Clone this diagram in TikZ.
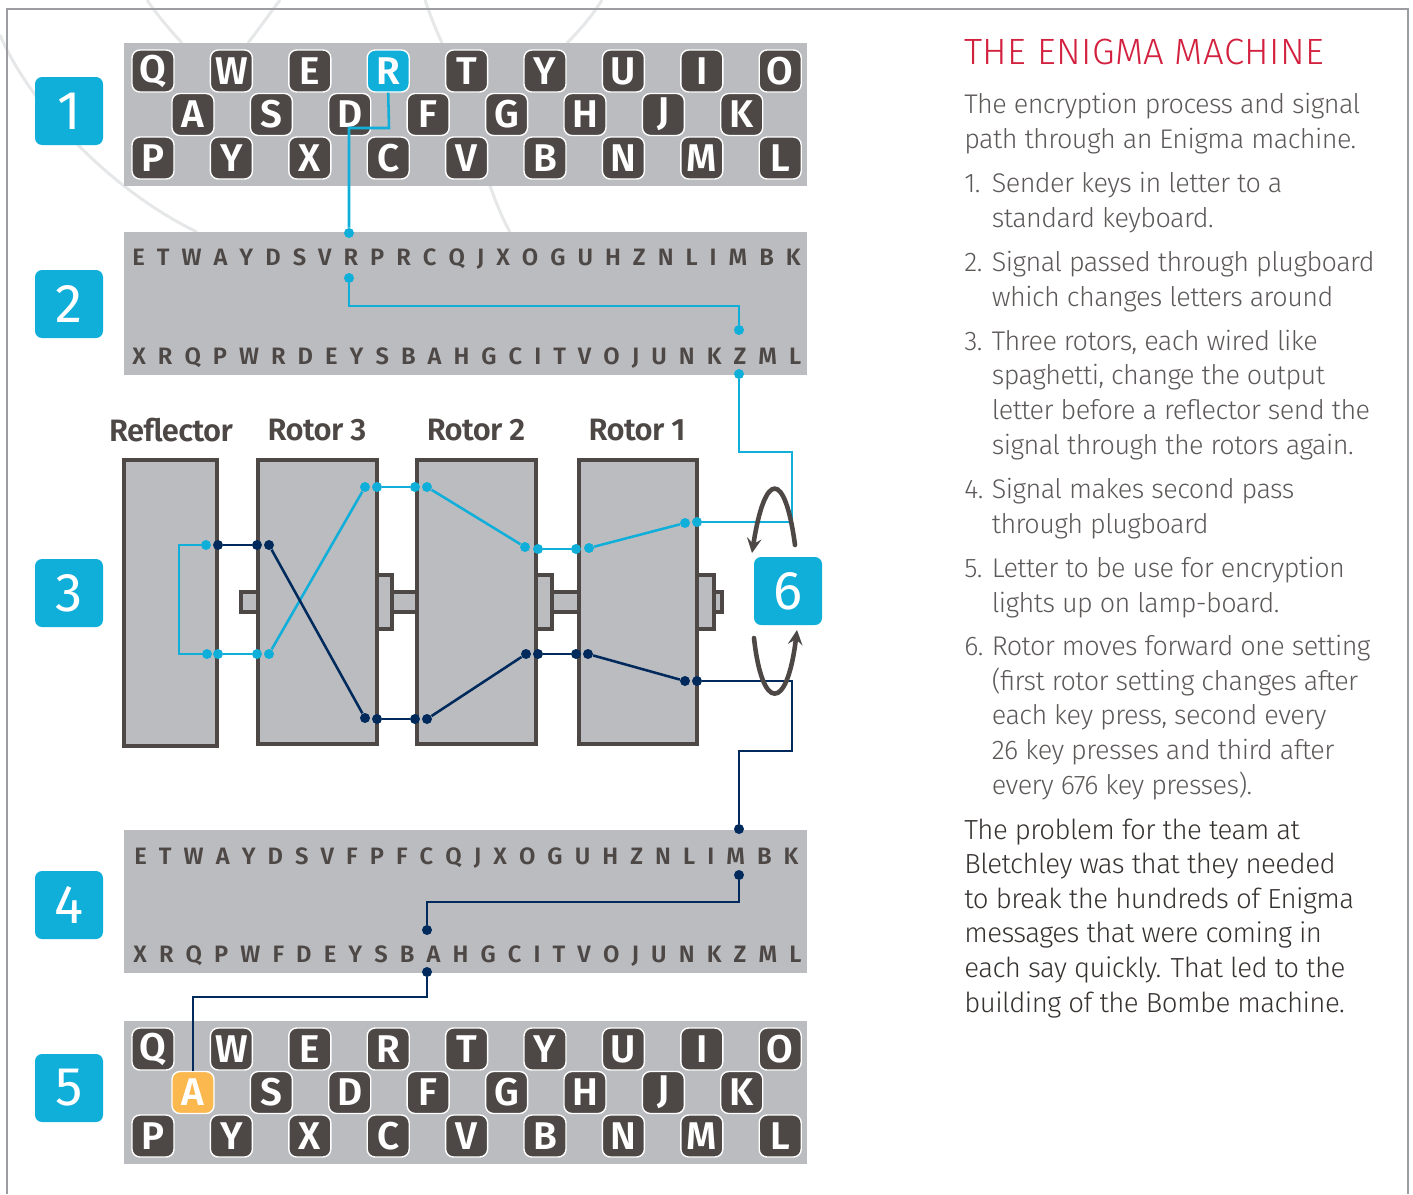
\documentclass[tikz,border=0pt]{standalone}
\usepackage{fontspec}
\setmainfont{Fira Sans Light}[BoldFont={Fira Sans SemiBold},LetterSpace=-2]
\newfontfamily\badgefont{Fira Sans}
\usetikzlibrary{calc,positioning}
\definecolor{skyblue}{HTML}{0FAFDA}
\definecolor{navyblue}{HTML}{002A5C}
\definecolor{darkgrey}{HTML}{4D4845}
\definecolor{textgrey}{HTML}{5C5958}
\definecolor{panelgrey}{HTML}{BBBCC0}
\definecolor{arcgrey}{HTML}{E6E7E8}
\definecolor{framegrey}{HTML}{9B9DA1}
\definecolor{titlered}{HTML}{D2203F}
\definecolor{lampyellow}{HTML}{FBB84E}
\newcommand{\numbered}[1]{\makebox[0.55cm][l]{#1}}
\newcommand{\indentline}{\hspace*{0.55cm}}
\tikzset{
  panel/.style={fill=panelgrey, draw=none, minimum width=683*0.02cm, minimum height=143*0.02cm, inner sep=0pt},
  badge/.style={fill=skyblue, rounded corners=4pt, minimum size=68*0.02cm, inner sep=0pt, text=white, font=\fontsize{31}{31}\selectfont\badgefont},
  keycap/.style={fill=darkgrey, draw=white, line width=0.8pt, rounded corners=4.5pt, minimum size=42*0.02cm, inner sep=0pt, text=white, font=\fontsize{22}{22}\selectfont\bfseries},
  strip/.style={text=darkgrey, inner sep=0pt, anchor=base west, font=\fontsize{13.5}{13.5}\selectfont\bfseries},
  rotorbox/.style={fill=panelgrey, draw=darkgrey, line width=2.3pt},
  rotorname/.style={text=darkgrey, inner sep=0pt, font=\fontsize{17.6}{17.6}\selectfont\bfseries},
  skydot/.style={fill=skyblue, circle, minimum size=10*0.02cm, inner sep=0pt},
  navydot/.style={fill=navyblue, circle, minimum size=10*0.02cm, inner sep=0pt},
  skyline/.style={draw=skyblue, line width=1.45pt},
  navyline/.style={draw=navyblue, line width=1.45pt},
  turn/.style={draw=darkgrey, line width=2.6pt, line cap=round, -stealth},
  para/.style={text=textgrey, inner sep=0pt, anchor=base west, align=left, font=\fontsize{15.35}{19.67}\selectfont},
}
\begin{document}
\begin{tikzpicture}[x=0.02cm, y=-0.02cm]
\def\scalex{78.4}
\def\scaley{43.5}
\def\startx{153}
\useasboundingbox (0,0) rectangle (1413,1194);
\draw[arcgrey, line width=1.7pt] (0,35) .. controls (30,105) and (110,190) .. (197,232);
\draw[arcgrey, line width=1.7pt] (147,0) .. controls (158,16) and (170,30) .. (182,43);
\draw[arcgrey, line width=1.7pt] (280,0) .. controls (268,16) and (258,30) .. (248,43);
\draw[arcgrey, line width=1.7pt] (425,0) .. controls (430,15) and (436,30) .. (442,43);
\draw[arcgrey, line width=1.7pt] (490,186) .. controls (496,202) and (502,218) .. (510,232);
\draw[arcgrey, line width=1.7pt] (602,0) .. controls (592,16) and (580,30) .. (567,43);
\draw[framegrey, line width=1.5pt] (7,1194) -- (7,9) -- (1408,9) -- (1408,1194);

\node[panel] (keyboard) at (465.5,114.5) {};
\node[panel] (entry) at (465.5,303.5) {};
\node[panel] (exit) at (465.5,901.5) {};
\node[panel] (lampboard) at (465.5,1092.5) {};

\node[badge] (one) at (69,111) {1};
\node[badge] (two) at (69,304) {2};
\node[badge] (three) at (69,593) {3};
\node[badge] (four) at (69,905) {4};
\node[badge] (five) at (69,1088) {5};
\node[badge] (six) at (788,591) {6};

\def\starty{71}
\node[keycap] (kq) at (0*\scalex+\startx,0*\scaley+\starty) {Q};
\node[keycap] (kw) at (1*\scalex+\startx,0*\scaley+\starty) {W};
\node[keycap] (ke) at (2*\scalex+\startx,0*\scaley+\starty) {E};
\node[keycap, fill=skyblue] (kr) at (3*\scalex+\startx,0*\scaley+\starty) {R};
\node[keycap] (kt) at (4*\scalex+\startx,0*\scaley+\starty) {T};
\node[keycap] (ky) at (5*\scalex+\startx,0*\scaley+\starty) {Y};
\node[keycap] (ku) at (6*\scalex+\startx,0*\scaley+\starty) {U};
\node[keycap] (ki) at (7*\scalex+\startx,0*\scaley+\starty) {I};
\node[keycap] (ko) at (8*\scalex+\startx,0*\scaley+\starty) {O};
\node[keycap] (ka) at (0.51*\scalex+\startx,1*\scaley+\starty) {A};
\node[keycap] (ks) at (1.51*\scalex+\startx,1*\scaley+\starty) {S};
\node[keycap] (kd) at (2.51*\scalex+\startx,1*\scaley+\starty) {D};
\node[keycap] (kf) at (3.51*\scalex+\startx,1*\scaley+\starty) {F};
\node[keycap] (kg) at (4.51*\scalex+\startx,1*\scaley+\starty) {G};
\node[keycap] (kh) at (5.51*\scalex+\startx,1*\scaley+\starty) {H};
\node[keycap] (kj) at (6.51*\scalex+\startx,1*\scaley+\starty) {J};
\node[keycap] (kk) at (7.51*\scalex+\startx,1*\scaley+\starty) {K};
\node[keycap] (kp) at (0*\scalex+\startx,2*\scaley+\starty) {P};
\node[keycap] (ky2) at (1*\scalex+\startx,2*\scaley+\starty) {Y};
\node[keycap] (kx) at (2*\scalex+\startx,2*\scaley+\starty) {X};
\node[keycap] (kc) at (3*\scalex+\startx,2*\scaley+\starty) {C};
\node[keycap] (kv) at (4*\scalex+\startx,2*\scaley+\starty) {V};
\node[keycap] (kb) at (5*\scalex+\startx,2*\scaley+\starty) {B};
\node[keycap] (kn) at (6*\scalex+\startx,2*\scaley+\starty) {N};
\node[keycap] (km) at (7*\scalex+\startx,2*\scaley+\starty) {M};
\node[keycap] (kl) at (8*\scalex+\startx,2*\scaley+\starty) {L};

\def\starty{1049}
\node[keycap] (lq) at (0*\scalex+\startx,0*\scaley+\starty) {Q};
\node[keycap] (lw) at (1*\scalex+\startx,0*\scaley+\starty) {W};
\node[keycap] (le) at (2*\scalex+\startx,0*\scaley+\starty) {E};
\node[keycap] (lr) at (3*\scalex+\startx,0*\scaley+\starty) {R};
\node[keycap] (lt) at (4*\scalex+\startx,0*\scaley+\starty) {T};
\node[keycap] (ly) at (5*\scalex+\startx,0*\scaley+\starty) {Y};
\node[keycap] (lu) at (6*\scalex+\startx,0*\scaley+\starty) {U};
\node[keycap] (li) at (7*\scalex+\startx,0*\scaley+\starty) {I};
\node[keycap] (lo) at (8*\scalex+\startx,0*\scaley+\starty) {O};
\node[keycap, fill=lampyellow] (la) at (0.51*\scalex+\startx,1*\scaley+\starty) {A};
\node[keycap] (ls) at (1.51*\scalex+\startx,1*\scaley+\starty) {S};
\node[keycap] (ld) at (2.51*\scalex+\startx,1*\scaley+\starty) {D};
\node[keycap] (lf) at (3.51*\scalex+\startx,1*\scaley+\starty) {F};
\node[keycap] (lg) at (4.51*\scalex+\startx,1*\scaley+\starty) {G};
\node[keycap] (lh) at (5.51*\scalex+\startx,1*\scaley+\starty) {H};
\node[keycap] (lj) at (6.51*\scalex+\startx,1*\scaley+\starty) {J};
\node[keycap] (lk) at (7.51*\scalex+\startx,1*\scaley+\starty) {K};
\node[keycap] (lp) at (0*\scalex+\startx,2*\scaley+\starty) {P};
\node[keycap] (ly2) at (1*\scalex+\startx,2*\scaley+\starty) {Y};
\node[keycap] (lx) at (2*\scalex+\startx,2*\scaley+\starty) {X};
\node[keycap] (lc) at (3*\scalex+\startx,2*\scaley+\starty) {C};
\node[keycap] (lv) at (4*\scalex+\startx,2*\scaley+\starty) {V};
\node[keycap] (lb) at (5*\scalex+\startx,2*\scaley+\starty) {B};
\node[keycap] (ln) at (6*\scalex+\startx,2*\scaley+\starty) {N};
\node[keycap] (lm) at (7*\scalex+\startx,2*\scaley+\starty) {M};
\node[keycap] (ll) at (8*\scalex+\startx,2*\scaley+\starty) {L};

\node[strip] (rowa) at (132,265) {\spaceskip=6.84pt E T W A Y D S V R P R C Q J X O G U H Z N L I M B K};
\node[strip] (rowb) at (132,364) {\spaceskip=6.85pt X R Q P W R D E Y S B A H G C I T V O J U N K Z M L};
\node[strip] (rowc) at (134,864) {\spaceskip=6.88pt E T W A Y D S V F P F C Q J X O G U H Z N L I M B K};
\node[strip] (rowd) at (133,962) {\spaceskip=6.9pt X R Q P W F D E Y S B A H G C I T V O J U N K Z M L};

\node[rotorname] (reflname) at (171,430) {Reflector};
\node[rotorname] (rthreename) at (317,430) {Rotor 3};
\node[rotorname] (rtwoname) at (476,430) {Rotor 2};
\node[rotorname] (ronename) at (637,430) {Rotor 1};

\draw[rotorbox] (241,592) rectangle (258,612);
\draw[rotorbox] (392,592) rectangle (417,612);
\draw[rotorbox] (552,592) rectangle (579,612);
\draw[rotorbox] (714,592) rectangle (722,612);
\draw[rotorbox] (377,575) rectangle (392,629);
\draw[rotorbox] (536,575) rectangle (552,629);
\draw[rotorbox] (697,575) rectangle (714,629);
\draw[rotorbox] (124,460) rectangle (217,746);
\draw[rotorbox] (258,460) rectangle (377,744);
\draw[rotorbox] (417,460) rectangle (536,744);
\draw[rotorbox] (579,460) rectangle (697,744);

\node[skydot] (a) at (349,233) {};
\node[skydot] (b) at (349,278) {};
\node[skydot] (c) at (739,330) {};
\node[skydot] (d) at (739,374) {};
\node[skydot] (e) at (697,522) {};
\node[skydot] (f) at (685,523) {};
\node[skydot] (g) at (589,548) {};
\node[skydot] (h) at (576,549) {};
\node[skydot] (i) at (538,549) {};
\node[skydot] (j) at (525,547) {};
\node[skydot] (k) at (427,487) {};
\node[skydot] (l) at (415,487) {};
\node[skydot] (m) at (377,487) {};
\node[skydot] (n) at (365,487) {};
\node[skydot] (o) at (269,654) {};
\node[skydot] (p) at (257,654) {};
\node[skydot] (q) at (218,654) {};
\node[skydot] (r) at (207,654) {};
\node[skydot] (s) at (206,545) {};
\node[navydot] (t) at (218,545) {};
\node[navydot] (u) at (257,545) {};
\node[navydot] (v) at (269,545) {};
\node[navydot] (w) at (365,718) {};
\node[navydot] (x) at (377,719) {};
\node[navydot] (y) at (415,719) {};
\node[navydot] (z) at (427,719) {};
\node[navydot] (aa) at (526,654) {};
\node[navydot] (ab) at (538,654) {};
\node[navydot] (ac) at (576,654) {};
\node[navydot] (ad) at (588,654) {};
\node[navydot] (ae) at (685,681) {};
\node[navydot] (af) at (697,681) {};
\node[navydot] (ag) at (739,829) {};
\node[navydot] (ah) at (739,875) {};
\node[navydot] (ai) at (427,930) {};
\node[navydot] (aj) at (427,972) {};

\coordinate (bendone) at (389,128);
\coordinate (bendtwo) at (349,306);
\coordinate (bendthree) at (792,452);
\coordinate (bendfour) at (792,751);
\coordinate (bendfive) at (427,902);
\coordinate (bendsix) at (427,997);

\draw[skyline] (kr.south) -- (bendone) -| (a);
\draw[skyline] (b) -- (bendtwo) -| (c);
\draw[skyline] (d) |- (bendthree) |- (e);
\draw[skyline] (f) -- (g);
\draw[skyline] (h) -- (i);
\draw[skyline] (j) -- (k);
\draw[skyline] (l) -- (m);
\draw[skyline] (n) -- (o);
\draw[skyline] (p) -- (q);
\draw[skyline] (r) -| (179,545) -- (s);
\draw[navyline] (t) -- (u);
\draw[navyline] (v) -- (w);
\draw[navyline] (x) -- (y);
\draw[navyline] (z) -- (aa);
\draw[navyline] (ab) -- (ac);
\draw[navyline] (ad) -- (ae);
\draw[navyline] (af) -| (bendfour) -| (ag);
\draw[navyline] (ah) |- (bendfive) -- (ai);
\draw[navyline] (aj) -- (bendsix) -| (la.north);

\draw[turn] (795,545) .. controls (785,470) and (765,470) .. (752,553);
\draw[turn] (754,638) .. controls (762,712) and (787,712) .. (797,630);

\node[para, text=titlered, font=\fontsize{20.8}{20.8}\selectfont\addfontfeature{LetterSpace=1.2}] (title) at (964,64) {THE ENIGMA MACHINE};
\node[para] (intro) at (964,148) {The encryption process and signal\\path through an Enigma machine.};
\node[para] (itemone) at (964,227) {\numbered{1.}Sender keys in letter to a\\\indentline standard keyboard.};
\node[para] (itemtwo) at (964,306) {\numbered{2.}Signal passed through plugboard\\\indentline which changes letters around};
\node[para] (itemthree) at (964,454) {\numbered{3.}Three rotors, each wired like\\\indentline spaghetti, change the output\\\indentline letter before a reflector send the\\\indentline signal through the rotors again.};
\node[para] (itemfour) at (964,533) {\numbered{4.}Signal makes second pass\\\indentline through plugboard};
\node[para] (itemfive) at (964,612) {\numbered{5.}Letter to be use for encryption\\\indentline lights up on lamp-board.};
\node[para] (itemsix) at (964,794) {\numbered{6.}Rotor moves forward one setting\\\indentline (first rotor setting changes after\\\indentline each key press, second every\\\indentline 26 key presses and third after\\\indentline every 676 key presses).};
\node[para, text=darkgrey!70!black, font=\fontsize{15.7}{19.67}\selectfont] (closing) at (964,1012) {The problem for the team at\\Bletchley was that they needed\\to break the hundreds of Enigma\\messages that were coming in\\each say quickly. That led to the\\building of the Bombe machine.};
\end{tikzpicture}
\end{document}
